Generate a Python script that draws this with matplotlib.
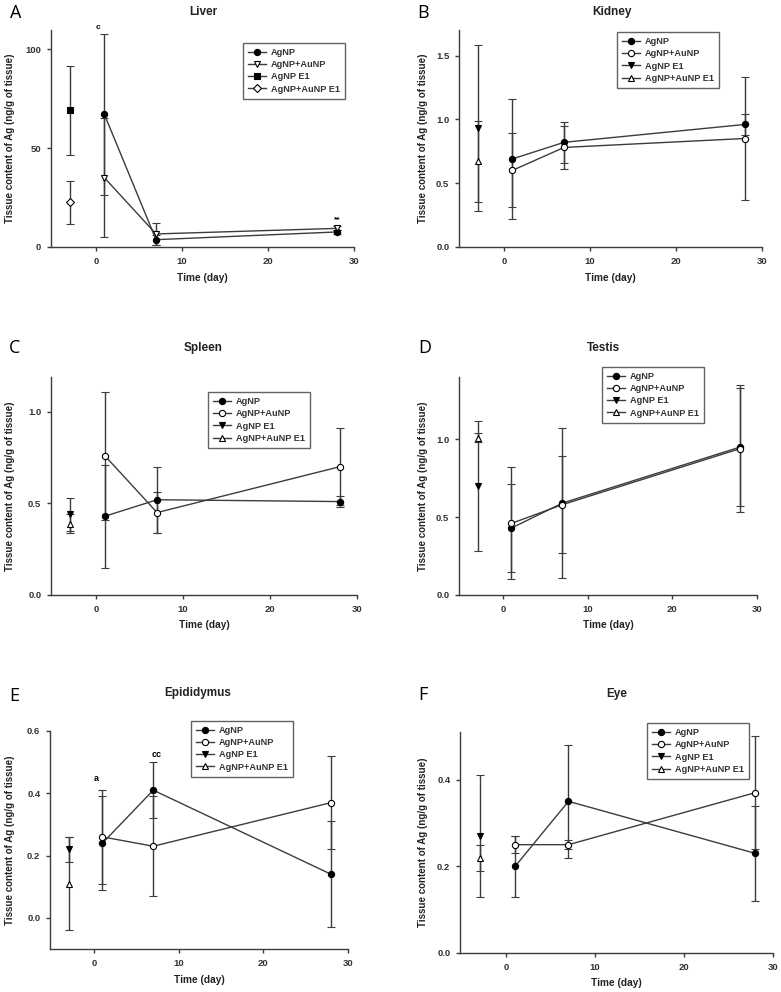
import numpy as np
import matplotlib
matplotlib.use("Agg")
import matplotlib.pyplot as plt
from matplotlib.lines import Line2D

plt.rcParams['font.family'] = ['Liberation Sans', 'DejaVu Sans']

# sampling days
DAYS = [1, 7, 28]
E1_DAY = -3

PANELS = ['A', 'B', 'C', 'D', 'E', 'F']
ORGANS = ['Liver', 'Kidney', 'Spleen', 'Testis', 'Epididymus', 'Eye']
GROUPS = ['AgNP', 'AgNP+AuNP', 'AgNP E1', 'AgNP+AuNP E1']

# AgNP group (mean, sd) at days 1, 7, 28
ag_mean = [[67, 3.7, 7.6], [0.69, 0.82, 0.96], [0.43, 0.52, 0.51],
           [0.43, 0.59, 0.95], [0.24, 0.41, 0.14], [0.20, 0.35, 0.23]]
ag_err = [[40.5, 2.5, 1.0], [0.47, 0.16, 0.08], [0.28, 0.18, 0.03],
          [0.28, 0.48, 0.38], [0.15, 0.09, 0.17], [0.07, 0.13, 0.11]]

# AgNP+AuNP group
au_mean = [[35, 6.6, 9.4], [0.60, 0.78, 0.85], [0.76, 0.45, 0.70],
           [0.46, 0.58, 0.94], [0.26, 0.23, 0.37], [0.25, 0.25, 0.37]]
au_err = [[30, 5.5, 1.0], [0.29, 0.17, 0.48], [0.35, 0.11, 0.21],
          [0.36, 0.31, 0.41], [0.15, 0.16, 0.15], [0.02, 0.01, 0.13]]

# E1 points
e1_ag_mean = [69, 0.93, 0.44, 0.70, 0.22, 0.27]
e1_ag_err = [22.6, 0.65, 0.09, 0.42, 0.04, 0.14]
e1_au_mean = [22.5, 0.67, 0.39, 1.01, 0.11, 0.22]
e1_au_err = [11, 0.32, 0.05, 0.03, 0.15, 0.03]

ylims = [(0, 109.6), (0, 1.7), (0, 1.19), (0, 1.4), (-0.1, 0.6), (0, 0.51)]
yticks = [[0, 50, 100], [0, 0.5, 1.0, 1.5], [0, 0.5, 1.0], [0, 0.5, 1.0],
          [0, 0.2, 0.4, 0.6], [0, 0.2, 0.4]]

# axes boxes in pixels: left, right, top, bottom
boxes = [(51, 354, 30, 247), (459, 762, 30, 247), (51, 357, 377, 595),
         (459, 757, 377, 595), (50, 348, 731, 949), (460, 773, 732, 953)]
leg_anchor = [(0.634, 0.94), (0.521, 0.99), (0.513, 0.931),
              (0.48, 1.046), (0.473, 1.046), (0.597, 1.04)]
letter_pos = [(16, 13), (423, 13), (15, 348), (425, 348), (14, 696), (423, 695)]
title_pos = [(203, 12), (612, 12), (203, 348), (603, 348), (198, 693), (617, 694)]
xlabel_y = [278, 278, 625, 625, 980, 983]

W, H = 781, 992
LC = '#3c3c3c'

fig = plt.figure(figsize=(W / 100, H / 100), dpi=100)

for i in range(6):
    l, r, t, b = boxes[i]
    ax = fig.add_axes([l / W, (H - b) / H, (r - l) / W, (b - t) / H])

    if i == 0:
        mk = ['o', 'v', 's', 'D']
        ms = [4.5, 5, 4.5, 4]
    else:
        mk = ['o', 'o', 'v', '^']
        ms = [4.5, 4.5, 5, 5]
    fc = ['black', 'white', 'black', 'white']
    eb = dict(color=LC, ecolor=LC, elinewidth=1, capsize=3, capthick=1,
              lw=1, markeredgecolor='black', markeredgewidth=0.8)

    ax.errorbar(DAYS, ag_mean[i], yerr=ag_err[i], marker=mk[0], ms=ms[0],
                markerfacecolor=fc[0], **eb)
    ax.errorbar(DAYS, au_mean[i], yerr=au_err[i], marker=mk[1], ms=ms[1],
                markerfacecolor=fc[1], **eb)
    ax.errorbar([E1_DAY], [e1_ag_mean[i]], yerr=[e1_ag_err[i]], marker=mk[2],
                ms=ms[2], markerfacecolor=fc[2], **eb)
    ax.errorbar([E1_DAY], [e1_au_mean[i]], yerr=[e1_au_err[i]], marker=mk[3],
                ms=ms[3], markerfacecolor=fc[3], **eb)

    ax.set_xlim(-5.2, 30)
    ax.set_ylim(*ylims[i])
    ax.set_xticks([0, 10, 20, 30])
    ax.set_yticks(yticks[i])
    if i == 0:
        ax.set_yticklabels(['%d' % v for v in yticks[i]])
    else:
        ax.set_yticklabels(['%.1f' % v for v in yticks[i]])
    for s in ['top', 'right']:
        ax.spines[s].set_visible(False)
    for s in ['left', 'bottom']:
        ax.spines[s].set_color(LC)
        ax.spines[s].set_linewidth(1)
    ax.tick_params(direction='out', length=3, width=1, color=LC,
                   labelsize=6.8, labelcolor='#333333', pad=4)
    for lab in ax.get_xticklabels() + ax.get_yticklabels():
        lab.set_fontweight('bold')

    # legend without error bars
    handles = [Line2D([], [], color=LC, lw=1, marker=mk[k], ms=ms[k],
                      markerfacecolor=fc[k], markeredgecolor='black',
                      markeredgewidth=0.8) for k in range(4)]
    leg = ax.legend(handles, GROUPS, loc='upper left',
                    bbox_to_anchor=leg_anchor[i],
                    prop={'weight': 'bold', 'size': 6.6},
                    frameon=True, fancybox=False, handlelength=2.0,
                    borderpad=0.55, labelspacing=0.35, handletextpad=0.5,
                    borderaxespad=0)
    leg.get_frame().set_edgecolor(LC)
    leg.get_frame().set_linewidth(1)
    for txt in leg.get_texts():
        txt.set_color('#333333')

    lx, ly = letter_pos[i]
    fig.text(lx / W, 1 - ly / H, PANELS[i], family='Open Sans', fontsize=13,
             ha='center', va='center')
    tx, ty = title_pos[i]
    fig.text(tx / W, 1 - ty / H, ORGANS[i], fontsize=8.5, fontweight='bold',
             ha='center', va='center', color='#222222')
    fig.text(((l + r) / 2) / W, 1 - xlabel_y[i] / H, 'Time (day)', fontsize=7.3,
             fontweight='bold', ha='center', va='center', color='#222222')
    ylab_x = 10 if l < 200 else 423
    fig.text(ylab_x / W, 1 - ((t + b) / 2) / H,
             'Tissue content of Ag (ng/g of tissue)', fontsize=7,
             fontweight='bold', rotation=90, ha='center', va='center',
             color='#222222')

    if i == 0:
        ax.text(0.3, 111, 'c', fontsize=6, fontweight='bold', ha='center',
                va='center', clip_on=False)
        ax.text(28.1, 14, '**', fontsize=6, fontweight='bold', ha='center',
                va='center')
    if i == 4:
        ax.text(0.3, 0.449, 'a', fontsize=6.5, fontweight='bold', ha='center',
                va='center')
        ax.text(7.4, 0.523, 'cc', fontsize=6.5, fontweight='bold', ha='center',
                va='center')

fig.savefig('out.png', dpi=100)
